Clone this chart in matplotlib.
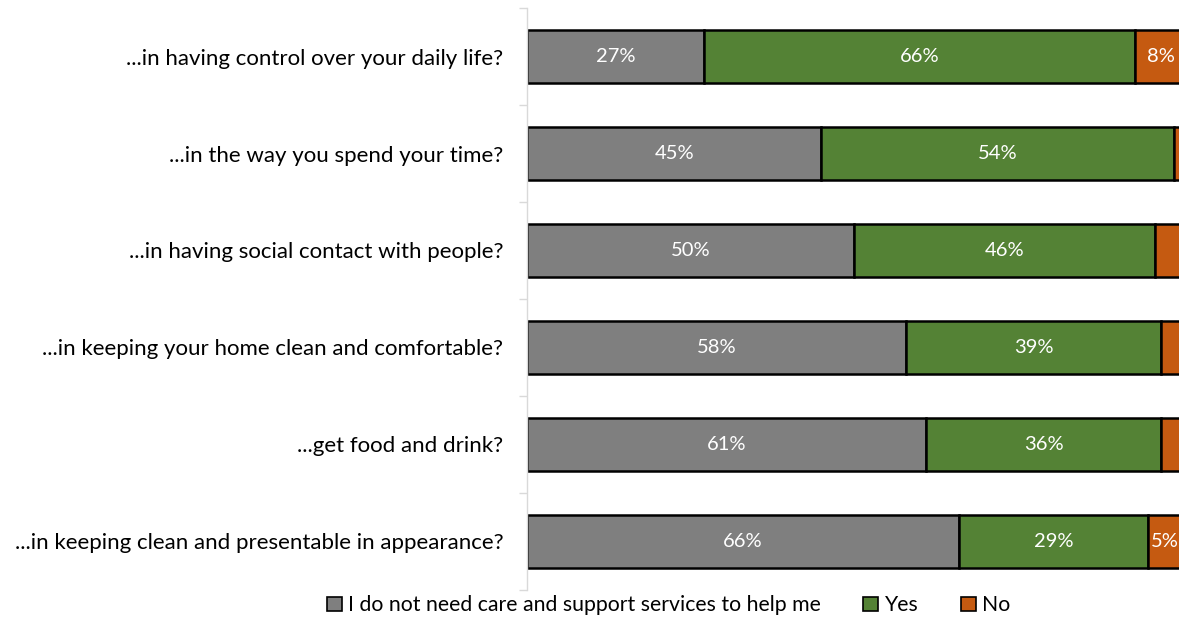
import matplotlib.pyplot as plt
import numpy as np

plt.rcParams['font.family'] = ['Lato', 'DejaVu Sans']

# categories (top to bottom)
questions = ['...in having control over your daily life?',
             '...in the way you spend your time?',
             '...in having social contact with people?',
             '...in keeping your home clean and comfortable?',
             '...get food and drink?',
             '...in keeping clean and presentable in appearance?']
no_need = [27, 45, 50, 58, 61, 66]
yes = [66, 54, 46, 39, 36, 29]
no = [8, 1, 4, 3, 3, 5]

series_names = ['I do not need care and support services to help me', 'Yes', 'No']
colors = ['#7F7F7F', '#548235', '#C55A11']

fig = plt.figure(figsize=(11.79, 6.19), dpi=100)
ax = fig.add_axes([0.447, 0.047, 0.553, 0.94])

y = np.arange(len(questions))
left = np.zeros(len(questions))
for vals, name, col in zip([no_need, yes, no], series_names, colors):
    vals = np.array(vals, dtype=float)
    ax.barh(y, vals, left=left, height=0.54, color=col, edgecolor='black',
            linewidth=1.8, label=name)
    for yi, l, v in zip(y, left, vals):
        if v >= 5:
            ax.text(l + v / 2, yi, f'{v:.0f}%', ha='center', va='center',
                    color='white', fontsize=14.5)
    left += vals

ax.set_ylim(len(questions) - 0.5, -0.5)
ax.set_xlim(0, 99.7)
ax.set_yticks(y)
ax.set_yticklabels(questions, fontsize=16, color='#000000')
ax.set_yticks(np.arange(len(questions) + 1) - 0.5, minor=True)
ax.tick_params(axis='y', which='major', length=0, pad=17)
ax.tick_params(axis='y', which='minor', length=6, color='#D9D9D9', width=1)
ax.set_xticks([])
for s in ['top', 'right', 'bottom']:
    ax.spines[s].set_visible(False)
ax.spines['left'].set_color('#D9D9D9')
ax.spines['left'].set_linewidth(1)

leg = fig.legend(loc='center', bbox_to_anchor=(0.567, 0.022), ncol=3, frameon=False,
                 fontsize=15.3, handlelength=0.7, handleheight=0.7,
                 handletextpad=0.3, columnspacing=2.0)
for h in leg.legend_handles:
    h.set_linewidth(1.2)

fig.savefig('out.png', dpi=100)
